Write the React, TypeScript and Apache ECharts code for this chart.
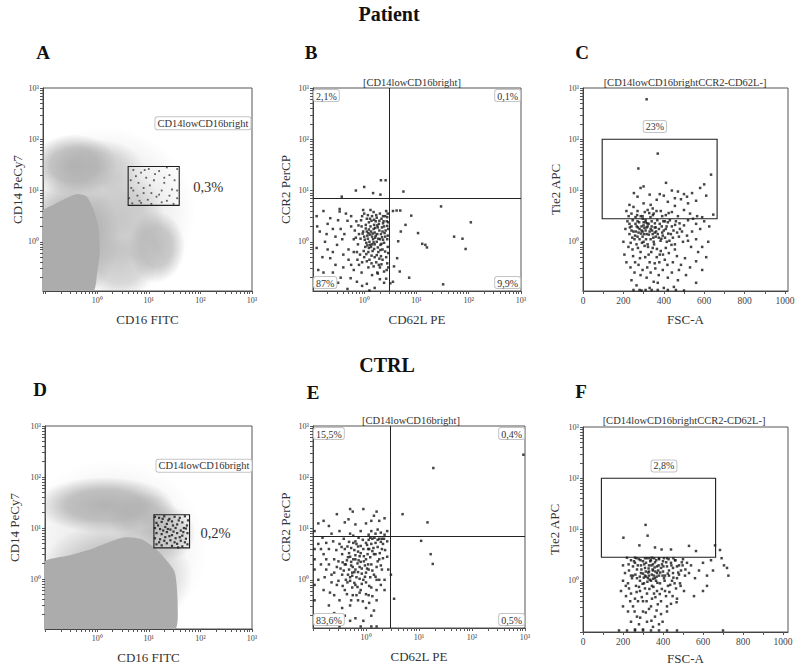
import React, { useEffect, useRef } from 'react';
import * as echarts from 'echarts';

// ---------- axis ticks / labels ----------
const DECADE_VALUES = [0, 1, 2, 3];
const DECADE_LABELS = ['10⁰', '10¹', '10²', '10³'];
const LOG_MINOR_STEPS = [2, 3, 4, 5, 6, 7, 8, 9];
const FSC_LABEL_VALUES = [0, 200, 400, 600, 800, 1000];
const FSC_TICK_VALUES = [0, 100, 200, 300, 400, 500, 600, 700, 800, 900, 1000];

// ---------- data (fluorescence values stored as log10 exponents) ----------
// density clouds: [centerX, centerY, radiusX, radiusY, density]
const A_HAZE = [
  [-0.45, 1.5, 0.85, 0.6, 0.85],
  [0.0, 1.45, 0.9, 0.55, 0.5],
  [-0.5, 0.1, 0.95, 1.2, 0.9],
  [1.15, -0.1, 0.55, 0.7, 0.75],
  [0.45, 0.45, 0.85, 0.95, 0.55],
  [0.45, -0.5, 0.7, 0.6, 0.5],
  [0.15, 0.55, 1.75, 1.7, 0.3],
];
const A_CORE = [[-1.06, 0.6], [-0.85, 0.72], [-0.6, 0.85], [-0.38, 0.93], [-0.2, 0.88], [-0.08, 0.65], [0.02, 0.3], [0.05, -0.2], [0.0, -0.6], [-0.08, -0.97], [-1.06, -0.97]];
const A_GATE = [0.6, 0.71, 1.59, 1.47];
const A_GATE_EVENTS = [
  [0.7, 1.4], [0.85, 1.35], [1.0, 1.42], [1.2, 1.38], [1.4, 1.3], [1.55, 1.42], [0.65, 1.2], [0.8, 1.15], [0.95, 1.25], [1.1, 1.2],
  [1.3, 1.15], [1.5, 1.2], [0.7, 1.0], [0.9, 1.05], [1.05, 0.95], [1.25, 1.0], [1.45, 1.02], [0.62, 0.85], [0.78, 0.9], [0.98, 0.82],
  [1.15, 0.88], [1.35, 0.8], [1.55, 0.85], [0.68, 0.75], [0.85, 0.76], [1.05, 0.74], [1.25, 0.77], [1.48, 0.74], [0.75, 1.28], [1.12, 1.32],
  [1.35, 1.45], [0.9, 0.95], [1.2, 0.92], [1.4, 0.9], [0.66, 1.05], [1.02, 1.1], [1.55, 1.0], [0.82, 0.8], [1.3, 1.25], [0.92, 1.4],
];

const B_EVENTS = [
  [0.32, 1.2], [0.41, 1.2], [-0.16, 1.0], [0.0, 1.07], [0.17, 0.95], [0.75, 0.98], [0.31, 0.92], [-0.43, 0.88],
  [1.47, 0.69], [2.04, 0.38], [1.72, 0.1], [1.88, 0.06], [1.94, -0.14], [1.17, -0.06], [1.2, -0.11], [1.11, -0.04], [1.03, 0.17], [0.9, 0.51],
  [0.69, 0.61], [0.62, 0.61], [0.55, 0.6], [0.79, 0.33], [0.7, 0.2], [0.65, 0.01], [0.63, -0.32], [0.68, -0.58], [0.86, -0.7], [1.51, -0.83],
  [0.57, -0.48], [0.55, -0.78], [0.5, -0.81],
  [0.3, -0.73], [0.42, -0.72], [0.38, -0.8], [0.2, -0.9], [0.05, -0.82], [-0.04, -0.86], [-0.14, -0.78], [-0.26, -0.71], [-0.45, -0.7], [-0.6, -0.6],
  [-0.78, -0.6], [-0.88, -0.55], [-0.5, -0.8], [-0.32, -0.92], [0.1, -0.95], [0.25, -0.6], [0.15, -0.65], [-0.05, -0.6], [-0.2, -0.55], [-0.4, -0.5],
  [-0.1, -0.45], [0.08, -0.5], [0.3, -0.5], [0.43, -0.55], [0.35, -0.35],
  [-0.78, 0.6], [-0.91, 0.5], [-0.65, 0.46], [-0.47, 0.64], [-0.47, 0.59], [-0.85, 0.2], [-0.75, 0.0], [-0.91, -0.12], [-0.65, -0.32], [-0.52, -0.06],
  [-0.38, 0.15], [-0.32, 0.41], [-0.25, 0.3], [-0.6, 0.25], [-0.7, 0.35], [-0.4, -0.25], [-0.55, -0.45], [-0.8, -0.3], [-0.3, -0.15], [-0.2, 0.05],
  [-0.9, 0.3], [-0.7, -0.15],
  [0.0, 0.1], [0.05, 0.2], [0.1, 0.0], [0.15, 0.1], [0.2, -0.05], [0.25, 0.15], [0.3, 0.05], [0.35, 0.2], [0.4, 0.1], [0.45, -0.1],
  [0.02, -0.1], [0.08, -0.2], [0.12, 0.3], [0.18, 0.25], [0.22, 0.4], [0.28, 0.35], [0.33, 0.45], [0.38, 0.3], [0.43, 0.4], [-0.05, 0.3],
  [-0.1, 0.15], [-0.12, -0.05], [-0.08, -0.25], [0.0, -0.3], [0.1, -0.35], [0.2, -0.3], [0.27, -0.2], [0.35, -0.15], [0.42, -0.3], [0.46, 0.25],
  [0.4, 0.5], [0.3, 0.55], [0.15, 0.5], [0.05, 0.45], [-0.15, 0.4], [0.13, -0.1], [0.17, 0.05], [0.24, 0.0], [0.07, 0.06], [0.31, -0.06],
  [0.38, -0.02], [0.2, 0.18], [0.11, 0.14], [0.26, 0.28], [0.04, -0.02], [-0.02, 0.2], [0.16, -0.18], [0.23, -0.4], [0.32, -0.28], [0.44, 0.05],
  [0.36, 0.36], [0.09, 0.38], [-0.18, 0.22], [-0.14, -0.2], [0.45, 0.55], [0.28, -0.45], [0.14, -0.42], [-0.04, 0.5],
  [0.01, 0.04], [0.06, 0.12], [0.11, -0.06], [0.16, 0.16], [0.21, 0.08], [0.26, -0.11], [0.29, 0.22], [0.34, 0.09], [0.39, 0.17], [0.44, 0.31],
  [-0.03, 0.16], [0.03, 0.33], [0.09, 0.24], [0.14, 0.41], [0.19, 0.33], [0.24, 0.47], [0.29, 0.41], [0.34, 0.28], [0.41, 0.22], [0.45, 0.12],
  [-0.07, 0.06], [-0.01, -0.18], [0.04, -0.24], [0.09, -0.12], [0.14, -0.27], [0.19, -0.14], [0.24, -0.26], [0.29, -0.33], [0.33, -0.04], [0.4, -0.19],
  [-0.11, 0.32], [-0.06, 0.42], [0.0, 0.55], [0.07, 0.52], [0.18, 0.58], [0.23, 0.52], [0.36, 0.5], [0.42, 0.6], [0.12, 0.62], [-0.02, 0.62],
  [-0.16, 0.08], [-0.2, -0.2], [-0.13, -0.35], [-0.04, -0.4], [0.05, -0.38], [0.18, -0.48], [0.33, -0.44], [0.38, -0.58], [0.44, -0.42], [0.26, -0.62],
  [0.03, 0.26], [0.13, 0.2], [0.22, 0.12], [0.27, 0.06], [0.32, 0.15], [0.37, 0.4], [0.18, -0.01], [0.08, 0.17], [0.15, -0.05], [0.25, 0.32],
  [-0.25, 0.5], [-0.3, -0.35], [-0.45, 0.25], [-0.55, 0.1], [-0.35, 0.55], [-0.6, -0.2], [-0.72, 0.15], [-0.5, 0.42], [-0.25, -0.45], [-0.42, 0.05],
  [0.46, -0.22], [0.46, 0.38], [0.46, -0.5], [0.44, 0.48], [0.21, 0.27], [0.11, 0.45], [0.31, -0.16], [0.06, -0.07], [0.36, 0.04], [0.19, 0.43],
];
const B_QUADRANT = [0.47, 0.84];

// C / F: x = FSC-A (linear), y = log10 Tie2 APC
const C_GATE = [95, 0.45, 664, 2.0];
const C_EVENTS = [
  [315, 2.78], [370, 1.72], [274, 1.43], [634, 1.31], [411, 1.15], [645, 0.53],
  [285, 1.05], [300, 1.08], [252, 0.95], [270, 0.88], [330, 0.92], [380, 0.93], [400, 0.9], [440, 1.0], [470, 0.98], [500, 0.93],
  [540, 0.95], [580, 1.05], [600, 1.12], [610, 0.9], [560, 0.8], [520, 0.75], [485, 0.83], [455, 0.7], [420, 0.78], [365, 0.82],
  [335, 0.72], [300, 0.75], [250, 0.68], [230, 0.72], [215, 0.6], [240, 0.55], [270, 0.6], [295, 0.5], [320, 0.62], [350, 0.55],
  [385, 0.6], [410, 0.52], [440, 0.58], [470, 0.5], [500, 0.62], [530, 0.55], [565, 0.5], [590, 0.48], [455, 0.85], [515, 0.88],
  [345, 0.65], [260, 0.48],
  [220, 0.4], [240, 0.3], [260, 0.35], [280, 0.25], [300, 0.38], [320, 0.3], [340, 0.4], [360, 0.28], [380, 0.35], [400, 0.22],
  [420, 0.38], [440, 0.3], [460, 0.4], [480, 0.25], [500, 0.32], [520, 0.42], [540, 0.2], [560, 0.35], [580, 0.25], [600, 0.4],
  [230, 0.15], [255, 0.05], [275, 0.18], [295, 0.1], [315, 0.15], [335, 0.05], [355, 0.18], [375, 0.08], [395, 0.12], [415, 0.0],
  [435, 0.15], [455, -0.05], [475, 0.1], [495, 0.0], [515, 0.12], [535, -0.1], [560, 0.05], [590, -0.1], [620, 0.0], [225, -0.1],
  [245, -0.15], [265, -0.05], [285, -0.2], [305, -0.08], [325, -0.25], [345, -0.12], [365, -0.3], [385, -0.18], [405, -0.35], [425, -0.22],
  [445, -0.4], [465, -0.28], [485, -0.45], [505, -0.32], [530, -0.5], [560, -0.38], [590, -0.55], [215, -0.4], [235, -0.5], [255, -0.6],
  [275, -0.45], [295, -0.55], [315, -0.7], [335, -0.6], [355, -0.42], [375, -0.65], [395, -0.55], [420, -0.7], [440, -0.6], [470, -0.75],
  [510, -0.65], [560, -0.8], [240, -0.75], [265, -0.85], [290, -0.95], [330, -0.9], [370, -0.8], [400, -0.9], [450, -0.88], [500, -0.95],
  [240, 0.22], [270, 0.1], [310, 0.22], [330, 0.2], [350, 0.0], [290, 0.3], [250, 0.2], [370, 0.15], [390, 0.3], [410, 0.25],
  [300, 0.0], [280, 0.05], [320, -0.05], [340, 0.3], [360, 0.1], [270, 0.4], [310, 0.42], [230, 0.35], [445, 0.08], [490, 0.2],
  [610, -0.3], [570, -0.2], [625, 0.3], [200, 0.0], [205, -0.25], [210, 0.25],
  [250, -0.94], [280, -0.94], [310, -0.94], [340, -0.94], [370, -0.94], [420, -0.94], [460, -0.94],
  [232, 0.28], [246, 0.42], [258, 0.12], [266, 0.3], [278, 0.38], [287, 0.16], [296, 0.45], [304, 0.27], [312, 0.05], [318, 0.36],
  [326, 0.14], [334, 0.48], [342, 0.22], [348, 0.08], [356, 0.36], [362, 0.2], [368, 0.42], [376, 0.25], [384, 0.02], [392, 0.18],
  [398, 0.4], [406, 0.08], [414, 0.3], [422, 0.16], [430, 0.42], [438, -0.06], [448, 0.22], [456, 0.33], [466, 0.18], [478, 0.36],
  [236, -0.02], [248, -0.28], [262, 0.2], [272, -0.12], [282, -0.32], [292, -0.02], [302, 0.15], [308, -0.3], [322, -0.1], [330, -0.4],
  [338, -0.2], [352, -0.05], [358, -0.52], [366, -0.14], [378, -0.4], [388, 0.06], [396, -0.25], [410, -0.12], [418, -0.45], [428, 0.02],
  [226, 0.5], [244, 0.08], [268, 0.52], [286, 0.5], [306, 0.58], [328, 0.56], [346, 0.52], [364, 0.6], [392, 0.5], [424, 0.56],
  [290, 0.22], [300, 0.32], [315, 0.28], [325, 0.35], [335, 0.25], [345, 0.15], [355, 0.28], [295, 0.2], [310, 0.38], [272, 0.28],
  [258, -0.4], [285, -0.65], [318, -0.5], [350, -0.78], [380, -0.25], [405, 0.4], [455, -0.15], [475, -0.55], [520, 0.02], [545, 0.45],
];

const D_HAZE = [
  [0.15, 1.45, 1.35, 0.55, 0.9],
  [0.9, 1.2, 0.7, 0.5, 0.6],
  [0.35, 0.05, 1.5, 1.1, 0.75],
  [1.35, 0.9, 0.55, 0.55, 0.55],
  [0.3, 0.6, 1.85, 1.75, 0.22],
];
const D_CORE = [[-1.02, 0.33], [-0.6, 0.45], [-0.1, 0.59], [0.3, 0.75], [0.54, 0.82], [0.87, 0.78], [1.2, 0.53], [1.5, 0.14], [1.56, -0.5], [1.5, -0.99], [-1.02, -0.99]];
const D_GATE = [1.1, 0.61, 1.79, 1.26];
const D_GATE_EVENTS = [
  [1.12, 1.22], [1.2, 1.2], [1.3, 1.23], [1.4, 1.18], [1.5, 1.22], [1.6, 1.2], [1.7, 1.23], [1.76, 1.15],
  [1.15, 1.1], [1.25, 1.12], [1.35, 1.08], [1.45, 1.13], [1.55, 1.07], [1.65, 1.11], [1.74, 1.05],
  [1.12, 1.0], [1.22, 0.98], [1.32, 1.02], [1.42, 0.97], [1.52, 1.0], [1.62, 0.95], [1.72, 0.99],
  [1.15, 0.9], [1.25, 0.88], [1.35, 0.92], [1.45, 0.86], [1.55, 0.9], [1.65, 0.85], [1.75, 0.9],
  [1.12, 0.8], [1.22, 0.78], [1.32, 0.82], [1.42, 0.76], [1.52, 0.8], [1.62, 0.75], [1.72, 0.79],
  [1.15, 0.68], [1.25, 0.66], [1.35, 0.7], [1.45, 0.65], [1.55, 0.69], [1.65, 0.64], [1.75, 0.68],
  [1.18, 1.05], [1.28, 0.95], [1.38, 1.15], [1.48, 0.93], [1.58, 1.15], [1.68, 1.0], [1.2, 0.72], [1.4, 0.84],
  [1.6, 0.82], [1.3, 0.75], [1.5, 0.72], [1.7, 0.72], [1.27, 1.18], [1.47, 1.05], [1.67, 0.92], [1.37, 0.98], [1.57, 0.62],
];

const E_EVENTS = [
  [-0.3, 1.38], [-0.25, 1.33], [-0.05, 1.38], [0.2, 1.33], [0.15, 1.25], [-0.55, 1.28], [-0.8, 1.15], [-0.9, 1.1], [-0.7, 1.05], [-0.4, 1.12],
  [-0.33, 1.18], [-0.2, 1.08], [0.0, 1.1], [0.1, 1.15], [0.25, 1.15], [0.35, 1.2], [0.22, 0.98], [0.1, 0.95], [0.05, 0.88], [0.18, 0.9],
  [0.28, 0.92], [0.35, 0.88], [-0.1, 0.95], [-0.3, 0.9], [-0.5, 0.95], [-0.65, 0.9], [0.4, 0.95], [0.69, 1.28], [1.16, 1.12],
  [2.97, 2.44], [1.27, 2.18], [1.04, 0.76], [1.22, 0.5], [1.26, 0.31], [0.47, 0.1], [0.53, -0.37],
  [-0.97, 0.6], [-0.97, 0.2], [-0.97, -0.1], [-0.97, 0.4], [-0.97, -0.4], [-0.97, 0.95],
  [-0.5, -0.91], [0.2, -0.91], [-0.1, -0.91], [0.1, -0.91],
  [-0.9, 0.7], [-0.8, 0.5], [-0.85, 0.3], [-0.75, 0.2], [-0.9, 0.0], [-0.8, -0.2], [-0.7, 0.6], [-0.6, 0.4], [-0.65, 0.1], [-0.55, -0.1],
  [-0.6, -0.3], [-0.7, -0.5], [-0.5, 0.7], [-0.45, 0.5], [-0.4, 0.3], [-0.45, 0.1], [-0.35, -0.05], [-0.4, -0.2], [-0.5, -0.4], [-0.35, 0.65],
  [-0.3, 0.45], [-0.25, 0.25], [-0.3, 0.05], [-0.2, -0.1], [-0.25, -0.3], [-0.3, -0.5], [-0.2, 0.75], [-0.15, 0.55], [-0.1, 0.35], [-0.15, 0.15],
  [-0.05, 0.0], [-0.1, -0.2], [-0.15, -0.4], [-0.05, 0.6], [0.0, 0.4], [0.05, 0.2], [0.0, -0.05], [0.05, -0.3], [0.0, -0.55], [0.1, 0.7],
  [0.15, 0.5], [0.1, 0.3], [0.15, 0.1], [0.1, -0.15], [0.2, -0.4], [0.25, 0.8], [0.3, 0.6], [0.25, 0.4], [0.3, 0.2], [0.25, 0.0],
  [0.35, -0.2], [0.4, 0.75], [0.4, 0.45], [0.42, 0.2], [-0.28, 0.35], [-0.22, 0.15], [-0.12, 0.25], [-0.18, 0.05], [-0.08, 0.12], [-0.32, 0.2],
  [-0.38, 0.0], [-0.02, 0.28], [0.03, 0.5], [-0.26, -0.15], [-0.12, -0.25], [0.08, 0.05], [0.12, 0.8], [0.18, 0.72], [0.22, 0.78], [0.3, 0.8],
  [0.05, 0.78], [-0.6, -0.65], [-0.4, -0.7], [-0.2, -0.75], [-0.05, -0.8], [0.1, -0.7], [0.15, -0.6], [-0.45, -0.55], [-0.3, -0.8], [-0.8, -0.75],
  [-0.55, 0.25], [-0.65, -0.05], [-0.75, 0.4], [-0.2, 0.4], [-0.15, 0.65], [0.2, 0.25], [0.35, 0.0], [-0.42, 0.8], [-0.62, 0.75], [-0.82, 0.82],
  [0.28, -0.1], [0.2, -0.2], [0.06, -0.45],
  [-0.28, 0.28], [-0.24, 0.4], [-0.2, 0.2], [-0.16, 0.32], [-0.12, 0.46], [-0.08, 0.22], [-0.04, 0.36], [0.0, 0.14], [0.04, 0.3], [0.08, 0.44],
  [-0.36, 0.38], [-0.32, 0.52], [-0.28, 0.62], [-0.22, 0.58], [-0.18, 0.7], [-0.1, 0.66], [-0.06, 0.78], [0.02, 0.68], [0.06, 0.6], [0.12, 0.56],
  [-0.42, 0.18], [-0.38, 0.3], [-0.34, 0.1], [-0.3, -0.02], [-0.26, 0.08], [-0.22, -0.06], [-0.16, -0.14], [-0.12, 0.02], [-0.08, -0.08], [-0.02, 0.06],
  [-0.52, 0.36], [-0.48, 0.22], [-0.56, 0.58], [-0.46, 0.64], [-0.6, 0.14], [-0.52, -0.02], [-0.44, -0.12], [-0.36, -0.28], [-0.28, -0.4], [-0.18, -0.3],
  [0.14, 0.62], [0.18, 0.5], [0.22, 0.64], [0.26, 0.52], [0.32, 0.7], [0.36, 0.58], [0.28, 0.74], [0.16, 0.82], [0.08, 0.82], [0.34, 0.8],
  [-0.14, 0.82], [-0.24, 0.86], [0.0, 0.72], [-0.32, 0.74], [-0.4, 0.6], [-0.7, 0.3], [-0.78, 0.05], [-0.68, -0.25], [-0.85, 0.6], [-0.75, 0.72],
  [0.12, 0.18], [0.18, 0.06], [0.22, 0.36], [0.28, 0.28], [0.32, 0.42], [0.06, -0.12], [0.0, -0.28], [-0.06, -0.42], [0.12, -0.32], [0.2, 0.0],
  [-0.1, 0.52], [-0.2, 0.48], [-0.26, 0.14], [-0.14, 0.38], [-0.04, 0.46], [0.02, 0.22], [-0.34, 0.44], [-0.44, 0.34], [-0.24, 0.72], [0.04, 0.6],
];
const E_QUADRANT = [0.45, 0.84];

const F_GATE = [92, 0.46, 663, 2.0];
const F_EVENTS = [
  [313, 1.09], [202, 0.84], [323, 0.88], [282, 0.69], [360, 0.65], [393, 0.61], [440, 0.61], [530, 0.68], [565, 0.58], [660, 0.69],
  [685, 0.6], [693, 0.44], [720, 0.25], [727, 0.1], [705, 0.3], [650, 0.2], [640, 0.4], [620, 0.1], [600, 0.35], [580, 0.2],
  [560, 0.05], [620, -0.1], [600, -0.2], [555, -0.3],
  [200, 0.3], [220, 0.45], [240, 0.4], [260, 0.35], [280, 0.42], [300, 0.38], [320, 0.44], [340, 0.4], [360, 0.36], [380, 0.42],
  [400, 0.38], [420, 0.44], [440, 0.35], [460, 0.4], [480, 0.3], [500, 0.42], [520, 0.35], [540, 0.3],
  [210, 0.15], [230, 0.2], [250, 0.1], [270, 0.22], [290, 0.15], [310, 0.25], [330, 0.1], [350, 0.2], [370, 0.15], [390, 0.25],
  [410, 0.1], [430, 0.2], [450, 0.15], [470, 0.05], [490, 0.2], [510, 0.1], [530, 0.15],
  [200, 0.0], [225, -0.05], [245, 0.05], [265, -0.1], [285, 0.0], [305, -0.05], [325, 0.05], [345, -0.1], [365, 0.0], [385, -0.05],
  [405, 0.05], [425, -0.1], [445, 0.0], [465, -0.15], [485, -0.05], [505, -0.2],
  [190, -0.2], [215, -0.3], [240, -0.25], [260, -0.35], [285, -0.2], [300, -0.4], [320, -0.25], [345, -0.35], [370, -0.2], [390, -0.4],
  [415, -0.3], [440, -0.45], [470, -0.35],
  [200, -0.5], [225, -0.6], [250, -0.5], [270, -0.7], [300, -0.6], [330, -0.55], [360, -0.7], [390, -0.65], [420, -0.6], [240, -0.8],
  [280, -0.85], [320, -0.8], [350, -0.9], [300, -0.95], [260, -0.95], [380, -0.85],
  [330, 0.3], [350, 0.32], [370, 0.28], [310, 0.1], [290, 0.3], [330, 0.18], [360, 0.05], [400, 0.18], [420, 0.28], [380, 0.1],
  [340, 0.0], [310, -0.15], [270, 0.05], [250, 0.28], [230, -0.15], [395, 0.32], [355, -0.25], [315, 0.35], [275, -0.4], [450, 0.25],
  [470, 0.28], [430, 0.1], [260, 0.45], [345, 0.45],
  [180, -0.97], [220, -0.97], [260, -0.97], [300, -0.97], [340, -0.97], [380, -0.97], [420, -0.97], [470, -0.97], [700, -0.97],
  [262, 0.12], [274, 0.3], [284, 0.08], [292, 0.22], [298, -0.06], [306, 0.32], [314, 0.18], [322, -0.02], [328, 0.24], [336, 0.38],
  [344, 0.12], [352, -0.12], [358, 0.26], [366, 0.4], [372, -0.04], [378, 0.3], [386, 0.16], [394, -0.16], [402, 0.28], [408, 0.0],
  [416, 0.36], [424, 0.14], [432, -0.22], [442, 0.3], [452, 0.06], [462, 0.4], [476, 0.16], [488, -0.1], [498, 0.3], [512, 0.22],
  [268, -0.22], [280, -0.12], [294, -0.32], [304, 0.06], [318, -0.4], [332, -0.16], [340, -0.5], [350, 0.04], [362, -0.32], [374, -0.46],
  [384, -0.26], [398, 0.1], [410, -0.2], [420, -0.5], [436, -0.08], [448, -0.3], [458, -0.05], [468, -0.42], [480, 0.12], [494, 0.36],
  [255, 0.38], [268, 0.44], [288, 0.4], [310, 0.44], [332, 0.44], [356, 0.44], [380, 0.44], [404, 0.44], [428, 0.42], [452, 0.44],
  [326, 0.16], [334, 0.02], [342, 0.3], [348, 0.22], [354, 0.1], [362, 0.18], [368, 0.08], [376, 0.2], [316, 0.08], [300, 0.14],
  [240, 0.1], [228, 0.32], [214, -0.1], [236, -0.4], [258, -0.6], [286, -0.72], [314, -0.62], [342, -0.78], [368, -0.58], [398, -0.8],
];

// ---------- layout / styles ----------
const SERIF = "'Liberation Serif', 'Times New Roman', serif";
const GRAY = '172,172,172';

type Note = { x: number; y: number; text: string; align: string; va: string; dx?: number; dy?: number; size?: number; box?: boolean };

type Panel = {
  grid: { left: number; top: number; width: number; height: number };
  xLog: boolean; xMin: number; xMax: number; yMin: number; yMax: number;
  xName: string; yName: string; yGap: number; xGap: number;
  haze?: number[][]; core?: number[][][]; gate?: number[];
  events?: number[][]; eventColor?: string; eventSize?: number;
  quadrant?: number[]; notes: Note[];
};

function logTicks(min: number, max: number) {
  const out: number[] = [];
  for (let d = -2; d <= 3; d++) {
    if (d >= min && d <= max) out.push(d);
    for (const k of LOG_MINOR_STEPS) {
      const v = d + Math.log10(k);
      if (v >= min && v <= max) out.push(v);
    }
  }
  return out;
}

function quadNotes(xMin: number, xMax: number, yMin: number, yMax: number, t: string[]): Note[] {
  return [
    { x: xMin, y: yMax, text: t[0], align: 'left', va: 'top', dx: 1, dy: 2, box: true },
    { x: xMax, y: yMax, text: t[1], align: 'right', va: 'top', dx: -1, dy: 2, box: true },
    { x: xMin, y: yMin, text: t[2], align: 'left', va: 'bottom', dx: 1, dy: -3, box: true },
    { x: xMax, y: yMin, text: t[3], align: 'right', va: 'bottom', dx: -1, dy: -3, box: true },
  ];
}

const PANELS: Panel[] = [
  {
    grid: { left: 43, top: 88, width: 209, height: 203 }, xLog: true, xMin: -1.05, xMax: 3, yMin: -0.96, yMax: 3,
    xName: 'CD16 FITC', yName: 'CD14 PeCy7', yGap: 19, xGap: 22,
    haze: A_HAZE, core: [A_CORE], gate: A_GATE, events: A_GATE_EVENTS, eventColor: '#3a3a3a', eventSize: 1.8,
    notes: [
      { x: 2.97, y: 2.31, text: 'CD14lowCD16bright', align: 'right', va: 'middle', size: 10.5, box: true },
      { x: 1.86, y: 1.06, text: '0,3%', align: 'left', va: 'middle', size: 14.5 },
    ],
  },
  {
    grid: { left: 313, top: 88, width: 208, height: 203 }, xLog: true, xMin: -0.98, xMax: 3, yMin: -0.96, yMax: 3,
    xName: 'CD62L PE', yName: 'CCR2 PerCP', yGap: 21, xGap: 22,
    events: B_EVENTS, eventColor: '#161616', eventSize: 2.5, quadrant: B_QUADRANT,
    notes: quadNotes(-0.98, 3, -0.96, 3, ['2,1%', '0,1%', '87%', '9,9%']),
  },
  {
    grid: { left: 583, top: 88, width: 205, height: 203 }, xLog: false, xMin: 0, xMax: 1015, yMin: -0.96, yMax: 3,
    xName: 'FSC-A', yName: 'Tie2 APC', yGap: 21, xGap: 22,
    gate: C_GATE, events: C_EVENTS, eventColor: '#161616', eventSize: 2.5,
    notes: [{ x: 356, y: 2.25, text: '23%', align: 'center', va: 'middle', box: true }],
  },
  {
    grid: { left: 45, top: 426, width: 207, height: 203 }, xLog: true, xMin: -1.01, xMax: 3, yMin: -0.98, yMax: 3,
    xName: 'CD16 FITC', yName: 'CD14 PeCy7', yGap: 24, xGap: 22,
    haze: D_HAZE, core: [D_CORE], gate: D_GATE, events: D_GATE_EVENTS, eventColor: '#111', eventSize: 2.2,
    notes: [
      { x: 2.99, y: 2.22, text: 'CD14lowCD16bright', align: 'right', va: 'middle', size: 10.5, box: true },
      { x: 2.0, y: 0.9, text: '0,2%', align: 'left', va: 'middle', size: 14.5 },
    ],
  },
  {
    grid: { left: 313, top: 426, width: 212, height: 202 }, xLog: true, xMin: -1.0, xMax: 3, yMin: -0.94, yMax: 3,
    xName: 'CD62L PE', yName: 'CCR2 PerCP', yGap: 21, xGap: 22,
    events: E_EVENTS, eventColor: '#161616', eventSize: 2.5, quadrant: E_QUADRANT,
    notes: quadNotes(-1.0, 3, -0.94, 3, ['15,5%', '0,4%', '83,6%', '0,5%']),
  },
  {
    grid: { left: 583, top: 427, width: 205, height: 205 }, xLog: false, xMin: 0, xMax: 1025, yMin: -1.0, yMax: 3,
    xName: 'FSC-A', yName: 'Tie2 APC', yGap: 22, xGap: 20,
    gate: F_GATE, events: F_EVENTS, eventColor: '#161616', eventSize: 2.5,
    notes: [{ x: 405, y: 2.24, text: '2,8%', align: 'center', va: 'middle', box: true }],
  },
];

const HEADINGS = [
  { text: 'Patient', x: 389, y: 14, size: 20 },
  { text: 'CTRL', x: 387, y: 365, size: 20 },
  { text: 'A', x: 43, y: 52, size: 19 },
  { text: 'B', x: 311, y: 52, size: 19 },
  { text: 'C', x: 582, y: 52, size: 19 },
  { text: 'D', x: 40, y: 389, size: 19 },
  { text: 'E', x: 313, y: 392, size: 19 },
  { text: 'F', x: 581, y: 391, size: 19 },
];
const PANEL_TITLES = [
  { text: '[CD14lowCD16bright]', x: 412, y: 82 },
  { text: '[CD14lowCD16brightCCR2-CD62L-]', x: 685, y: 82 },
  { text: '[CD14lowCD16bright]', x: 411, y: 420 },
  { text: '[CD14lowCD16brightCCR2-CD62L-]', x: 684, y: 420 },
];

function buildOption() {
  const grid: any[] = [];
  const xAxis: any[] = [];
  const yAxis: any[] = [];
  const series: any[] = [];

  const axisBase = (i: number, name: string, gap: number) => ({
    type: 'value', gridIndex: i, name, nameLocation: 'middle', nameGap: gap,
    nameTextStyle: { fontFamily: SERIF, fontSize: 13, color: '#333' },
    axisLine: { show: true, onZero: false, lineStyle: { color: '#444', width: 1 } },
    splitLine: { show: false },
  });
  const decadeFmt = (v: number) => DECADE_LABELS[DECADE_VALUES.indexOf(Math.round(v))];

  PANELS.forEach((p, i) => {
    grid.push({ ...p.grid, show: true, borderColor: '#555', borderWidth: 1, backgroundColor: 'transparent', containLabel: false });
    const xa: any = { ...axisBase(i, p.xName, p.xGap), min: p.xMin, max: p.xMax };
    if (p.xLog) {
      xa.axisTick = { show: true, customValues: logTicks(p.xMin, p.xMax), length: 3, lineStyle: { color: '#555' } };
      xa.axisLabel = { show: true, customValues: DECADE_VALUES, formatter: decadeFmt, fontFamily: SERIF, fontSize: 8, color: '#444', margin: 5 };
    } else {
      xa.axisTick = { show: true, customValues: FSC_TICK_VALUES, length: 3, lineStyle: { color: '#555' } };
      xa.axisLabel = { show: true, customValues: FSC_LABEL_VALUES, formatter: (v: number) => String(Math.round(v)), fontFamily: SERIF, fontSize: 9.5, color: '#444', margin: 5 };
    }
    xAxis.push(xa);
    yAxis.push({
      ...axisBase(i, p.yName, p.yGap), min: p.yMin, max: p.yMax,
      axisTick: { show: true, customValues: logTicks(p.yMin, p.yMax), length: 3, lineStyle: { color: '#555' } },
      axisLabel: { show: true, customValues: DECADE_VALUES, formatter: decadeFmt, fontFamily: SERIF, fontSize: 8, color: '#444', margin: 4 },
    });

    if (p.haze) {
      series.push({
        type: 'custom', xAxisIndex: i, yAxisIndex: i, clip: true, silent: true, z: 1,
        data: p.haze,
        renderItem: (_params: any, api: any) => {
          const c = api.coord([api.value(0), api.value(1)]);
          const s = api.size([api.value(2), api.value(3)]);
          const a = api.value(4);
          return {
            type: 'ellipse',
            shape: { cx: c[0], cy: c[1], rx: s[0], ry: s[1] },
            style: {
              fill: new echarts.graphic.RadialGradient(0.5, 0.5, 0.5, [
                { offset: 0, color: `rgba(${GRAY},${a})` },
                { offset: 0.55, color: `rgba(${GRAY},${a * 0.8})` },
                { offset: 1, color: `rgba(${GRAY},0)` },
              ]),
            },
          };
        },
      });
    }
    if (p.core) {
      const polys = p.core;
      series.push({
        type: 'custom', xAxisIndex: i, yAxisIndex: i, clip: true, silent: true, z: 2,
        data: polys.map((poly) => poly[0]),
        renderItem: (params: any, api: any) => {
          const poly = polys[params.dataIndex];
          return {
            type: 'polygon',
            shape: { points: poly.map((pt) => api.coord(pt)), smooth: 0.2 },
            style: { fill: `rgb(${GRAY})` },
          };
        },
      });
    }
    if (p.events) {
      const s: any = {
        type: 'scatter', xAxisIndex: i, yAxisIndex: i, data: p.events, symbol: 'rect', symbolSize: p.eventSize,
        itemStyle: { color: p.eventColor }, silent: true, z: 4, clip: true,
      };
      if (p.quadrant) {
        s.markLine = {
          silent: true, symbol: 'none', label: { show: false }, animation: false,
          lineStyle: { color: '#222', width: 1, type: 'solid' },
          data: [{ xAxis: p.quadrant[0] }, { yAxis: p.quadrant[1] }],
        };
      }
      series.push(s);
    }
    if (p.gate) {
      series.push({
        type: 'custom', xAxisIndex: i, yAxisIndex: i, clip: false, silent: true, z: 5,
        data: [p.gate],
        renderItem: (_params: any, api: any) => {
          const a = api.coord([api.value(0), api.value(3)]);
          const b = api.coord([api.value(2), api.value(1)]);
          return {
            type: 'rect',
            shape: { x: a[0], y: a[1], width: b[0] - a[0], height: b[1] - a[1] },
            style: { fill: 'none', stroke: '#1e1e1e', lineWidth: 1.1 },
          };
        },
      });
    }
    const notes = p.notes;
    series.push({
      type: 'custom', xAxisIndex: i, yAxisIndex: i, clip: false, silent: true, z: 8,
      data: notes.map((n) => [n.x, n.y]),
      renderItem: (params: any, api: any) => {
        const n = notes[params.dataIndex];
        const c = api.coord([n.x, n.y]);
        return {
          type: 'text',
          x: c[0] + (n.dx || 0), y: c[1] + (n.dy || 0),
          style: {
            text: n.text,
            fill: '#333',
            font: `${n.size || 10}px ${SERIF}`,
            align: n.align, verticalAlign: n.va,
            backgroundColor: n.box ? '#fff' : undefined,
            borderColor: n.box ? '#c4c4c4' : undefined,
            borderWidth: n.box ? 1 : 0,
            borderRadius: 2,
            padding: n.box ? [1, 2, 0, 2] : 0,
          },
        };
      },
    });
  });

  const graphic: any[] = [
    ...HEADINGS.map((h) => ({
      type: 'text', x: h.x, y: h.y,
      style: { text: h.text, font: `bold ${h.size}px ${SERIF}`, fill: '#111', align: 'center', verticalAlign: 'middle' },
    })),
    ...PANEL_TITLES.map((t) => ({
      type: 'text', x: t.x, y: t.y,
      style: { text: t.text, font: `10.5px ${SERIF}`, fill: '#333', align: 'center', verticalAlign: 'middle' },
    })),
  ];

  return { animation: false, backgroundColor: '#fff', grid, xAxis, yAxis, series, graphic };
}

export default function App() {
  const ref = useRef<HTMLDivElement>(null);
  useEffect(() => {
    if (!ref.current) return;
    const chart = echarts.init(ref.current, null, { renderer: 'svg' });
    chart.setOption(buildOption() as any);
    return () => chart.dispose();
  }, []);
  return <div ref={ref} style={{ position: 'fixed', left: 0, top: 0, width: 800, height: 671, background: '#fff' }} />;
}
